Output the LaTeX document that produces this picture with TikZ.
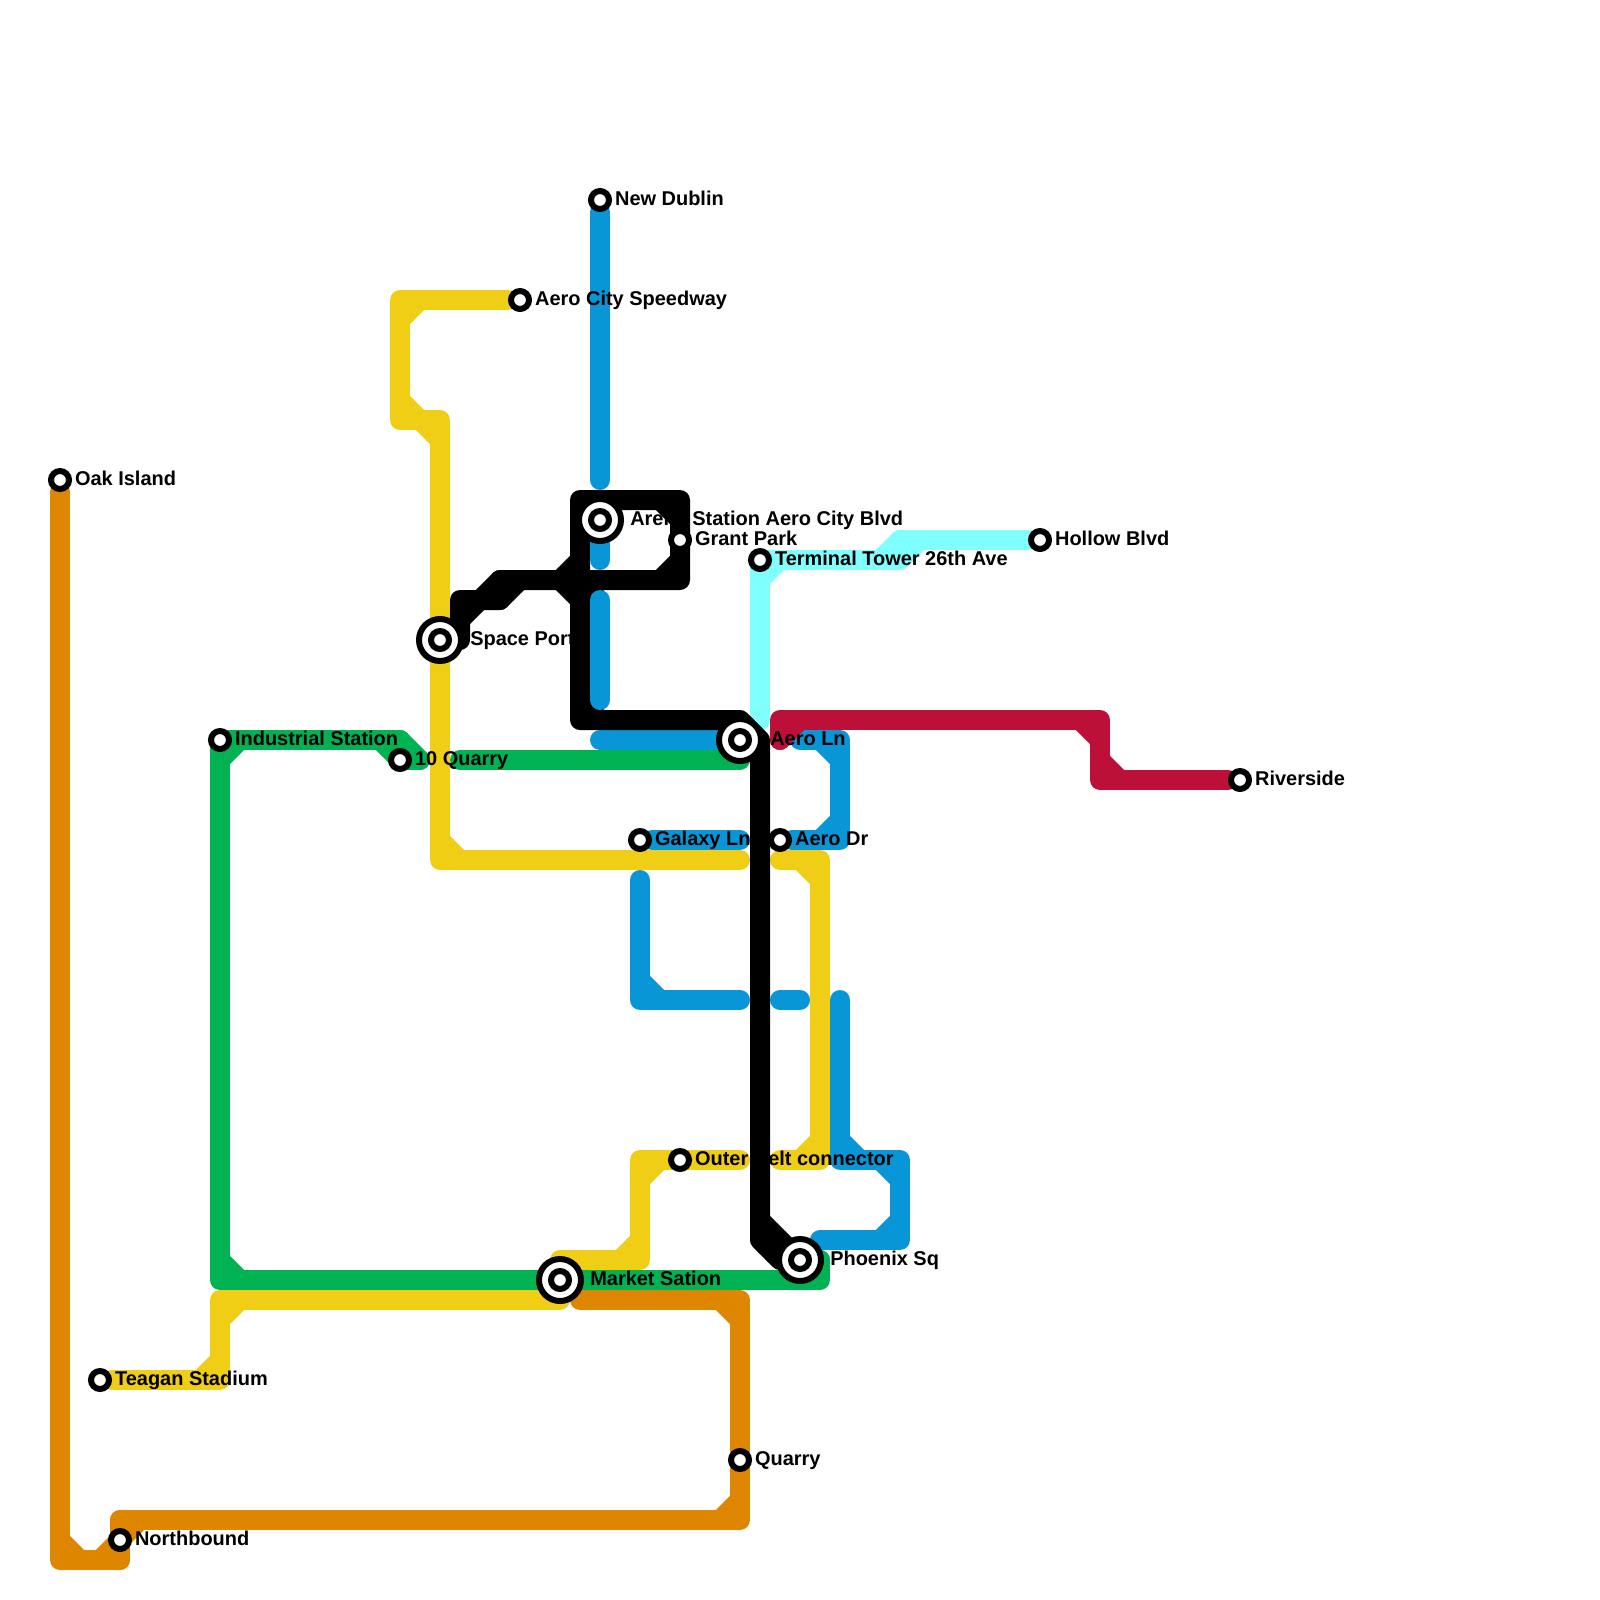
\documentclass[tikz,border=0pt]{standalone}
\usepackage{fontspec}
\setmainfont{Liberation Sans}
\usepackage{xcolor}
\usetikzlibrary{positioning, calc, decorations.pathreplacing}
\definecolor{naranja}{HTML}{DF8600}
\definecolor{amarillo}{HTML}{F0CE15}
\definecolor{verde}{HTML}{00B251}
\definecolor{azul}{HTML}{0896D7}
\definecolor{rojo}{HTML}{BD1038}
\definecolor{celeste}{HTML}{80FFFF}
\pgfdeclarelayer{rails}
\pgfdeclarelayer{names}
\pgfdeclarelayer{topline}
\pgfsetlayers{rails,names,topline,main}
\tikzset{
  rail/.style={draw=#1, line width=0.5cm, line cap=round, line join=round,
    postaction={decorate, decoration={show path construction,
      moveto code={\global\let\railprev\relax},
      lineto code={\ifx\railprev\relax\else
          \draw[draw=#1, line width=0.5cm, line cap=round]
            ($(\tikzinputsegmentfirst)!0.5cm!(\railprev)$) -- ($(\tikzinputsegmentfirst)!0.5cm!(\tikzinputsegmentlast)$);
        \fi
        \global\let\railprev\tikzinputsegmentfirst}}}},
  railo/.style={rail=naranja},
  raily/.style={rail=amarillo},
  railg/.style={rail=verde},
  railb/.style={rail=azul},
  railr/.style={rail=rojo},
  railc/.style={rail=celeste},
  raild/.style={rail=black},
  stn/.style={circle, draw=black, fill=white, line width=0.15cm, inner sep=0pt, minimum size=0.45cm},
  hub/.style={circle, draw=black, fill=white, line width=0.15cm, inner sep=0pt, minimum size=1.05cm,
              path picture={\draw[line width=0.15cm] (path picture bounding box.center) circle (0.225cm);}},
  lbl/.style={inner sep=0pt, text height=0.375cm, text depth=0.125cm, text=black,
              font=\fontsize{14.2}{16}\selectfont\bfseries, node distance=0.07cm},
  lblh/.style={lbl, node distance=0.15cm},
}
\begin{document}
\begin{tikzpicture}[x=0.5cm, y=-0.5cm]
  \useasboundingbox (0,0) rectangle (80,80);
  \node[stn] (oak) at (3,24) {};
  \node[stn] (dublin) at (30,10) {};
  \node[stn] (speedway) at (26,15) {};
  \node[hub] (arena) at (30,26) {};
  \node[stn] (grant) at (34,27) {};
  \node[stn] (terminal) at (38,28) {};
  \node[stn] (hollow) at (52,27) {};
  \node[hub] (space) at (22,32) {};
  \node[stn] (industrial) at (11,37) {};
  \node[stn] (tenquarry) at (20,38) {};
  \node[hub] (aeroln) at (37,37) {};
  \node[stn] (riverside) at (62,39) {};
  \node[stn] (galaxy) at (32,42) {};
  \node[stn] (aerodr) at (39,42) {};
  \node[stn] (outer) at (34,58) {};
  \node[hub] (phoenix) at (40,63) {};
  \node[hub] (market) at (28,64) {};
  \node[stn] (teagan) at (5,69) {};
  \node[stn] (quarry) at (37,73) {};
  \node[stn] (northbound) at (6,77) {};
  \coordinate (oend) at (29,65);
  \coordinate (yendc) at (28,65);
  \coordinate (yenda) at (37,43);
  \coordinate (ystartb) at (39,43);
  \coordinate (yendb) at (39,58);
  \coordinate (ystartc) at (37,58);
  \coordinate (yendd) at (28,63);
  \coordinate (gstart) at (21,38);
  \coordinate (gend) at (41,63);
  \coordinate (gstartb) at (23,38);
  \coordinate (gendb) at (37,38);
  \coordinate (cend) at (38,36);
  \coordinate (bdublin) at (30,24);
  \coordinate (barena) at (30,28);
  \coordinate (bmida) at (30,30);
  \coordinate (bmidb) at (30,35);
  \coordinate (blna) at (30,37);
  \coordinate (bgalaxy) at (37,42);
  \coordinate (bdr) at (40,37);
  \coordinate (blowa) at (32,44);
  \coordinate (blowb) at (37,50);
  \coordinate (blowc) at (39,50);
  \coordinate (blowd) at (40,50);
  \coordinate (blowe) at (42,50);
  \coordinate (blowf) at (41,62);
  \coordinate (rstart) at (39,37);
  \coordinate (dstart) at (23,32);
  \coordinate (dbend) at (38,61);
  \coordinate (dcrossa) at (28,29);
  \coordinate (dcrossb) at (29,30);
  \begin{pgfonlayer}{rails}
    \draw[railo] (oak) -- (3,78) -- (6,78) -- (northbound.center) -- (6,76) -- (37,76) -- (quarry.center) -- (37,65) -- (oend);
    \draw[raily] (speedway) -- (20,15) -- (20,21) -- (22,21) -- (space.center) -- (22,43) -- (yenda);
    \draw[raily] (ystartb) -- (41,43) -- (41,58) -- (yendb);
    \draw[raily] (ystartc) -- (outer.center) -- (32,58) -- (32,63) -- (yendd);
    \draw[raily] (yendc) -- (11,65) -- (11,69) -- (teagan);
    \draw[railg] (gstart) -- (tenquarry.center) -- (20,37) -- (industrial.center) -- (11,64) -- (market.center) -- (41,64) -- (gend);
    \draw[railg] (gstartb) -- (gendb);
    \draw[railc] (hollow) -- (45,27) -- (45,28) -- (terminal.center) -- (cend);
    \draw[railc] (cend) -- (aeroln.center);
    \draw[railb] (dublin) -- (bdublin);
    \draw[railb] (blna) -- (aeroln);
    \draw[railb] (galaxy) -- (bgalaxy);
    \draw[railb] (aerodr) -- (42,42) -- (42,37) -- (bdr);
    \draw[railb] (blowa) -- (32,50) -- (blowb);
    \draw[railb] (blowc) -- (blowd);
    \draw[railb] (blowe) -- (42,58) -- (45,58) -- (45,62) -- (blowf);
    \draw[railr] (rstart) -- (39,36) -- (55,36) -- (55,39) -- (riverside);
  \end{pgfonlayer}
  \begin{pgfonlayer}{names}
    \node[lbl, right=of oak] (oaktxt) {Oak Island};
    \node[lbl, right=of dublin] (dublintxt) {New Dublin};
    \node[lbl, right=of speedway] (speedwaytxt) {Aero City Speedway};
    \node[lblh, right=of arena] (arenatxt) {Arena Station Aero City Blvd};
    \node[lbl, right=of grant] (granttxt) {Grant Park};
    \node[lbl, right=of terminal] (terminaltxt) {Terminal Tower 26th Ave};
    \node[lbl, right=of hollow] (hollowtxt) {Hollow Blvd};
    \node[lblh, right=of space] (spacetxt) {Space Port};
    \node[lbl, right=of industrial] (industrialtxt) {Industrial Station};
    \node[lbl, right=of tenquarry] (tenquarrytxt) {10 Quarry};
    \node[lblh, right=of aeroln] (aerolntxt) {Aero Ln};
    \node[lbl, right=of riverside] (riversidetxt) {Riverside};
    \node[lbl, right=of galaxy] (galaxytxt) {Galaxy Ln};
    \node[lbl, right=of aerodr] (aerodrtxt) {Aero Dr};
    \node[lbl, right=of outer] (outertxt) {Outer Belt connector};
    \node[lblh, right=of phoenix] (phoenixtxt) {Phoenix Sq};
    \node[lblh, right=of market] (markettxt) {Market Sation};
    \node[lbl, right=of teagan] (teagantxt) {Teagan Stadium};
    \node[lbl, right=of quarry] (quarrytxt) {Quarry};
    \node[lbl, right=of northbound] (northboundtxt) {Northbound};
  \end{pgfonlayer}
  \begin{pgfonlayer}{topline}
    \draw[raild] (dstart) -- (23,30) -- (25,30) -- (25,29) -- (29,29) -- (29,25) -- (34,25) -- (34,29) -- (29,29) -- (29,36) -- (37,36) -- (38,37) -- (38,62) -- (39,63) -- (phoenix.center);
    \draw[raild] (dbend) -- (phoenix.center);
    \draw[raild] (dcrossa) -- (29,29) -- (dcrossb);
    \draw[railb] (arena) -- (barena);
    \draw[railb] (bmida) -- (bmidb);
  \end{pgfonlayer}
\end{tikzpicture}
\end{document}
